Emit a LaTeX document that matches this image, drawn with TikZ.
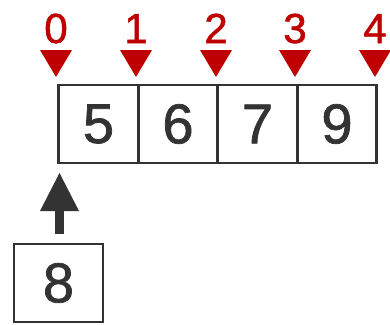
\documentclass[tikz,border=0pt]{standalone}
\usepackage{fontspec}
\setmainfont{Liberation Sans}
\newfontfamily\digf{Liberation Sans}[FakeBold=1.3]
\definecolor{ink}{HTML}{333333}
\definecolor{idxred}{HTML}{BE0000}
\begin{document}
\begin{tikzpicture}[x=1pt,y=-1pt,
  cell/.style={draw=ink,line width=2.6pt,minimum width=79.5pt,minimum height=78pt,inner sep=0pt,text=ink,font=\digf\fontsize{56}{60}\selectfont},
  idx/.style={text=idxred,inner sep=0pt,anchor=base,font=\digf\fontsize{42}{46}\selectfont},
  tri/.style={fill=idxred,draw=none}]
\useasboundingbox (0,0) rectangle (390,324);
\node[cell] (c0) at (98.5,124) {5};
\node[cell] (c1) at (178,124) {6};
\node[cell] (c2) at (257.5,124) {7};
\node[cell] (c3) at (337,124) {9};
\node[cell,minimum width=89pt] (b8) at (58.5,283) {8};
\foreach \i/\x in {0/56,1/136,2/216,3/295,4/375}{
  \node[idx] (n\i) at (\x,43) {\i};
  \fill[tri] (\x-16,50) -- (\x+16,50) -- (\x,77) -- cycle;
}
\coordinate (a0) at (59.5,235);
\coordinate (a1) at (59.5,173);
\draw[ink,line width=8.5pt] (b8.north -| a0) ++(0,-9) -- (59.5,210);
\fill[ink] (40,211) -- (79,211) -- (59.5,173) -- cycle;
\end{tikzpicture}
\end{document}
